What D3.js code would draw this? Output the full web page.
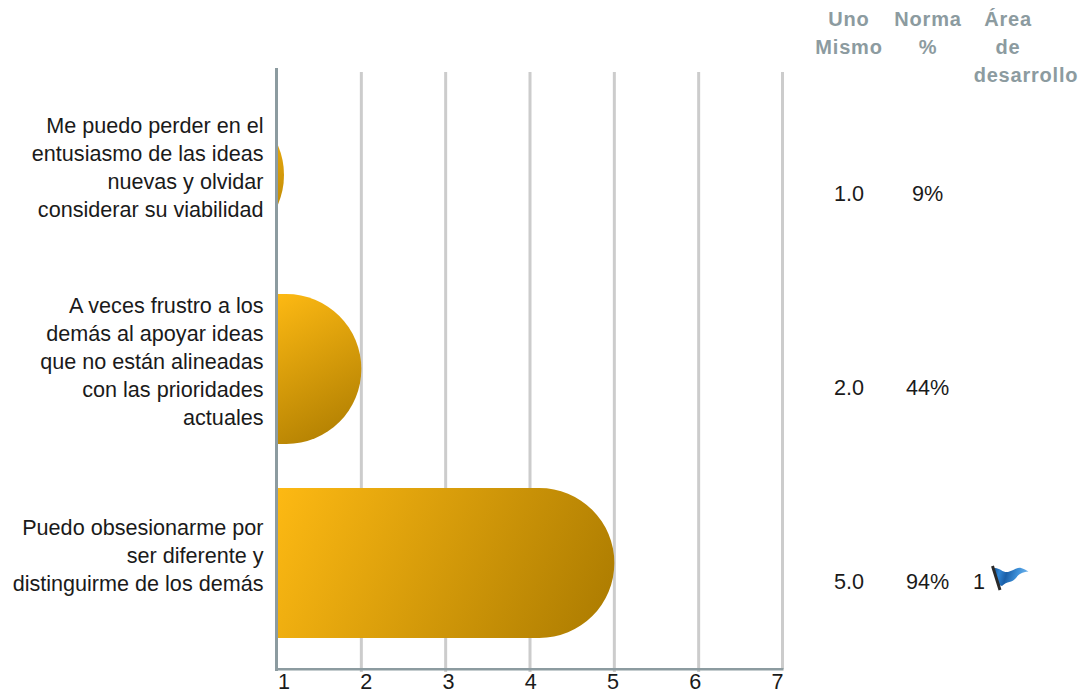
<!DOCTYPE html>
<html><head><meta charset="utf-8">
<script src="https://cdn.jsdelivr.net/npm/d3@7"></script>
<style>html,body{margin:0;padding:0;background:#fff}svg{display:block}text{font-family:"Liberation Sans",Arial,sans-serif}</style>
</head><body><svg id="c" width="1083" height="691"></svg>
<script>
const labels=[
 ["Me puedo perder en el","entusiasmo de las ideas","nuevas y olvidar","considerar su viabilidad"],
 ["A veces frustro a los","demás al apoyar ideas","que no están alineadas","con las prioridades","actuales"],
 ["Puedo obsesionarme por","ser diferente y","distinguirme de los demás"]];
const categories=["a","b","c"];
const selfValues=[1,2,5];
const selfText=["1.0","2.0","5.0"];
const normText=["9%","44%","94%"];
const devText=["","","1"];
const ticks=[1,2,3,4,5,6,7];

const svg=d3.select("#c");
const FS=21.6;
const x=d3.scaleLinear().domain([1,7]).range([277,783]);
const tickX=d3.scaleLinear().domain([1,7]).range([284,777.5]);
const y=d3.scaleBand().domain(categories).range([78,660]).paddingInner(44/194).paddingOuter(22/194);
const r=y.bandwidth()/2;
const minW=7;

const defs=svg.append("defs");
const barX0=x(1)+1;
const barX1=v=>Math.max(x(v),x(1)+minW);
categories.forEach((c,i)=>{
  const g=defs.append("linearGradient").attr("id","gold"+i).attr("gradientUnits","userSpaceOnUse")
    .attr("x1",barX0).attr("y1",y(c)).attr("x2",barX1(selfValues[i])).attr("y2",y(c)+2*r);
  g.append("stop").attr("offset",0).attr("stop-color","#fdb913");
  g.append("stop").attr("offset",1).attr("stop-color","#aa7a00");
});
const fg=defs.append("linearGradient").attr("id","flag").attr("x1",0).attr("y1",0).attr("x2",1).attr("y2",0.15);
[["0","#15508f"],["0.18","#2f86d6"],["0.4","#1a5fa8"],["0.7","#3c8fd8"],["1","#6fb2ea"]].forEach(s=>fg.append("stop").attr("offset",s[0]).attr("stop-color",s[1]));

// grid
svg.selectAll("line.grid").data(ticks.slice(1)).join("line").attr("class","grid")
 .attr("x1",d=>x(d)-(d==7?0.5:0)).attr("x2",d=>x(d)-(d==7?0.5:0)).attr("y1",72).attr("y2",d=>d==7?669:672)
 .attr("stroke","#cccccc").attr("stroke-width",3);

// bars
function barPath(v,cy){
  const x1=barX1(v), top=cy-r, bot=cy+r, cx=x1-r, p=d3.path();
  if(cx>=barX0){
    p.moveTo(barX0,top);p.lineTo(cx,top);p.arc(cx,cy,r,-Math.PI/2,Math.PI/2);p.lineTo(barX0,bot);p.closePath();
  }else{
    const a=Math.acos((barX0-cx)/r);
    p.moveTo(barX0,cy-r*Math.sin(a));p.arc(cx,cy,r,-a,a);p.closePath();
  }
  return p.toString();
}
svg.selectAll("path.bar").data(categories).join("path").attr("class","bar")
 .attr("d",(c,i)=>barPath(selfValues[i],y(c)+r)).attr("fill",(c,i)=>`url(#gold${i})`);

// axes
svg.append("line").attr("x1",x(1)-0.5).attr("x2",x(1)-0.5).attr("y1",68).attr("y2",671).attr("stroke","#8c9ba0").attr("stroke-width",3);
svg.append("line").attr("x1",x(1)-2).attr("x2",x(7)+0.5).attr("y1",669.3).attr("y2",669.3).attr("stroke","#8c9ba0").attr("stroke-width",2.6);

svg.selectAll("text.tick").data(ticks).join("text").attr("class","tick")
 .attr("x",d=>tickX(d)).attr("y",689).attr("text-anchor","middle").attr("font-size",FS).attr("fill","#1a1a1a").text(d=>d);

// category labels
const lh=28;
categories.forEach((c,i)=>{
  const ls=labels[i],cy=y(c)+r;
  svg.append("g").selectAll("text").data(ls).join("text")
   .attr("x",263.5).attr("y",(d,j)=>cy+(j-(ls.length-1)/2)*lh)
   .attr("text-anchor","end").attr("font-size",FS).attr("fill","#1a1a1a").text(d=>d);
  svg.append("text").attr("x",849).attr("y",cy+25.5).attr("text-anchor","middle").attr("font-size",FS).attr("fill","#1a1a1a").text(selfText[i]);
  svg.append("text").attr("x",927.5).attr("y",cy+25.5).attr("text-anchor","middle").attr("font-size",FS).attr("fill","#1a1a1a").text(normText[i]);
  if(devText[i]){
    svg.append("text").attr("x",979).attr("y",cy+25.5).attr("text-anchor","middle").attr("font-size",FS).attr("fill","#1a1a1a").text(devText[i]);
    const f=svg.append("g").attr("transform",`translate(990,${cy})`);
    f.append("path").attr("d","M4,5 C9,4 13,10 18,9 C23,8 27,4 31,5 C34,6 36,7 38.5,8.5 C32,9 29,11 26,15 C22,20 17,18 12,23 L9,22 Z").attr("fill","url(#flag)");
    f.append("line").attr("x1",2.5).attr("y1",3).attr("x2",10).attr("y2",27).attr("stroke","#2a2a2a").attr("stroke-width",3);
  }
});

// headers
[[849,["Uno","Mismo"]],[928,["Norma","%"]],[1008,["Área","de"]],[1026,[null,null,"desarrollo"]]].forEach(([hx,lines])=>{
  svg.append("g").selectAll("text").data(lines).join("text")
   .attr("x",hx).attr("y",(d,j)=>26+j*28).attr("text-anchor","middle")
   .attr("font-size",20).attr("font-weight","bold").attr("letter-spacing",0.8).attr("fill","#8c9ba0").text(d=>d);
});
</script></body></html>
